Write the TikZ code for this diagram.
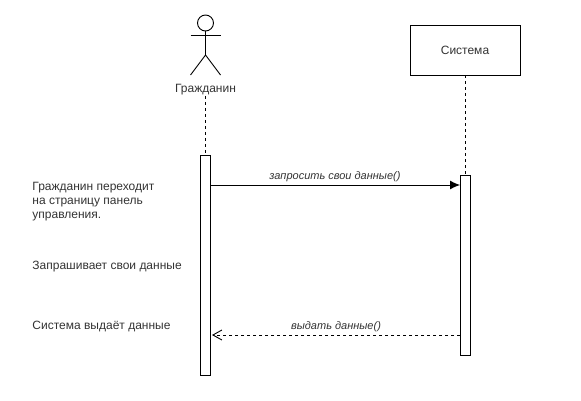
\documentclass[tikz,border=0pt]{standalone}
\usepackage{fontspec}
\setmainfont{Liberation Sans}
\usetikzlibrary{arrows.meta}
\tikzset{
  lifeline/.style={draw, fill=white, line width=.9pt, minimum width=10pt, inner sep=0pt},
  lbl/.style={text=black!80, font=\fontsize{12}{14}\selectfont},
  msg/.style={text=black!80, font=\fontsize{11}{12}\selectfont\itshape},
  note/.style={lbl, anchor=west, align=left, inner sep=0pt}
}
\begin{document}
\begin{tikzpicture}[x=1pt, y=-1pt, line width=.9pt]
  \useasboundingbox (0,0) rectangle (581,401);
  % actor
  \node[draw, circle, minimum size=16pt, inner sep=0pt] (head) at (205.5,23) {};
  \coordinate (neck) at (205.5,35);
  \coordinate (hip) at (205.5,55);
  \coordinate (armL) at (190.5,35);
  \coordinate (armR) at (220.5,35);
  \coordinate (legL) at (190.5,75);
  \coordinate (legR) at (220.5,75);
  \draw (head) -- (hip);
  \draw (armL) -- (armR);
  \draw (legL) -- (hip) -- (legR);
  \node[lbl, inner sep=0pt, minimum height=12pt] (citizen) at (205.5,89.5) {Гражданин};
  % system
  \node[draw, fill=white, minimum width=110pt, minimum height=50pt, inner sep=0pt, lbl] (system) at (465,50) {\raisebox{-1pt}{Система}};
  % bars
  \node[lifeline, minimum height=220pt] (barA) at (205,265) {};
  \node[lifeline, minimum height=180pt] (barB) at (465,265) {};
  \draw[dashed] (citizen.south -| barA.north) -- (barA.north);
  \draw[dashed] (system) -- (barB);
  % messages
  \coordinate (reqA) at (210,185);
  \coordinate (reqB) at (460,185);
  \coordinate (ansB) at (460,335);
  \coordinate (ansA) at (212,335);
  \draw[-{Latex[length=10pt, width=9pt]}] (reqA) -- (reqB);
  \draw[dashed, -{Straight Barb[length=9pt, width=10pt]}] (ansB) -- (ansA);
  \node[msg] (reqLbl) at (335,177) {запросить свои данные()};
  \node[msg] (ansLbl) at (336,327) {выдать данные()};
  % notes
  \node[note] (noteA) at (32,202) {Гражданин переходит\\на страницу панель\\управления.};
  \node[note] (noteB) at (32,267) {Запрашивает свои данные};
  \node[note] (noteC) at (32,327) {Система выдаёт данные};
\end{tikzpicture}
\end{document}
